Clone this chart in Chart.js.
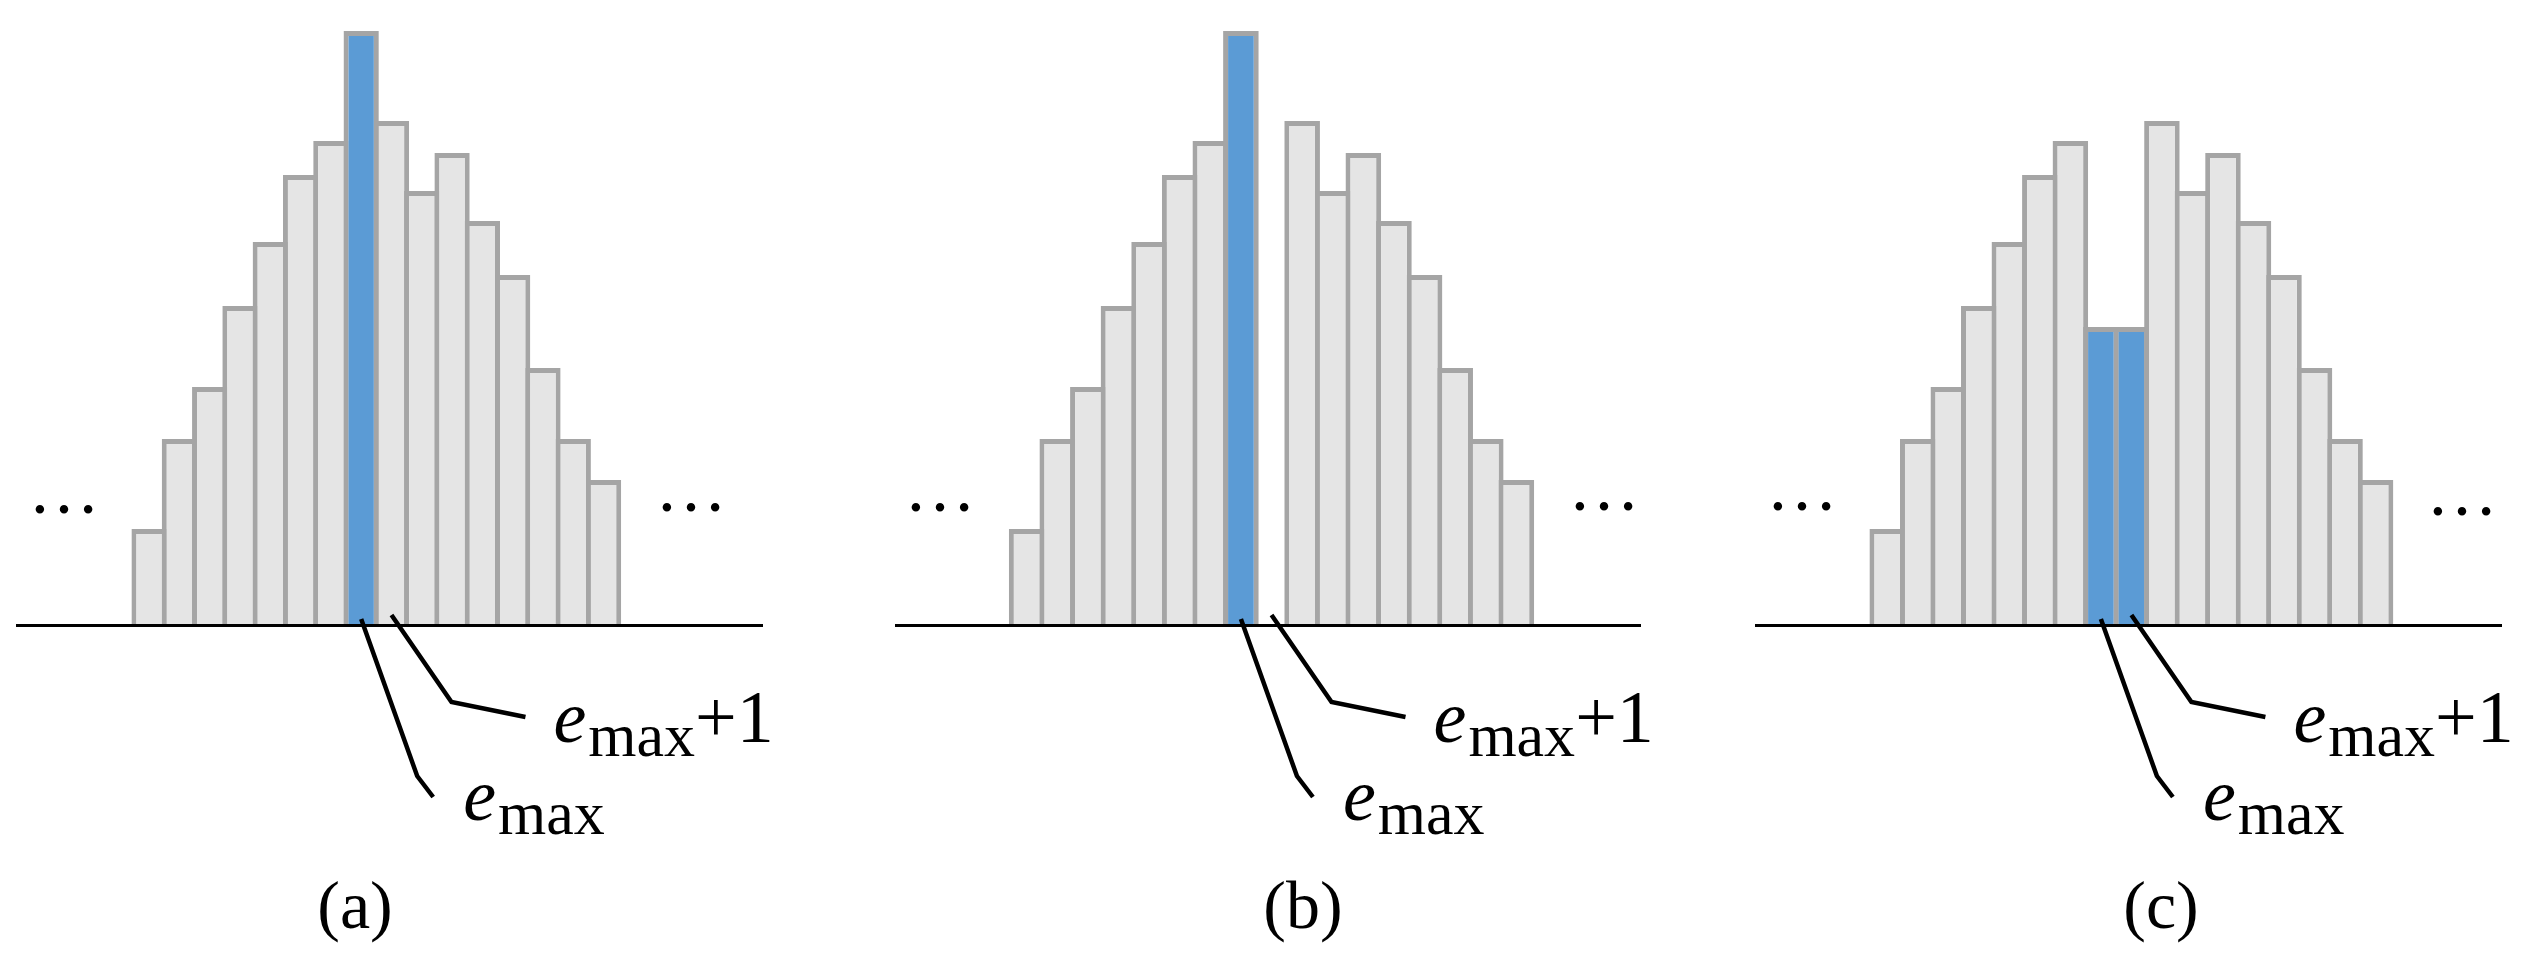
<!DOCTYPE html>
<html>
<head>
<meta charset="utf-8">
<script src="https://cdn.jsdelivr.net/npm/chart.js@4"></script>
<style>
  html, body { margin: 0; padding: 0; background: #fff; }
  #figure { position: relative; width: 2538px; height: 957px; overflow: hidden;
            font-family: "Liberation Serif", "Times New Roman", Times, "DejaVu Serif", serif; color: #000; }
  .panel { position: absolute; top: 0; width: 846px; height: 957px; }
  .panel canvas { position: absolute; left: 0; top: 0; }
  .lbl { position: absolute; font-size: 74px; line-height: 1; white-space: nowrap; }
  .lbl i { font-style: italic; }
  .lbl .sub { font-size: 62px; position: relative; top: 14px; margin-left: 2px; }
  .dots { position: absolute; font-size: 72px; line-height: 1; white-space: nowrap; }
  .cap { position: absolute; top: 871px; width: 200px; text-align: center; font-size: 68px; line-height: 1; }
</style>
</head>
<body>
<div id="figure">
  <div class="panel" style="left:0px">
    <canvas id="chartA" width="846" height="957"></canvas>
    <div class="lbl lbl-plus"><i>e</i><span class="sub">max</span>+1</div>
    <div class="lbl lbl-max"><i>e</i><span class="sub">max</span></div>
  </div>
  <div class="panel" style="left:846px">
    <canvas id="chartB" width="846" height="957"></canvas>
    <div class="lbl lbl-plus"><i>e</i><span class="sub">max</span>+1</div>
    <div class="lbl lbl-max"><i>e</i><span class="sub">max</span></div>
  </div>
  <div class="panel" style="left:1692px">
    <canvas id="chartC" width="846" height="957"></canvas>
    <div class="lbl lbl-plus"><i>e</i><span class="sub">max</span>+1</div>
    <div class="lbl lbl-max"><i>e</i><span class="sub">max</span></div>
  </div>

  <div class="dots" style="left:28px;top:453px">…</div>
  <div class="dots" style="left:655px;top:451px">…</div>
  <div class="dots" style="left:904px;top:451px">…</div>
  <div class="dots" style="left:1568px;top:450px">…</div>
  <div class="dots" style="left:1766px;top:450px">…</div>
  <div class="dots" style="left:2426px;top:455px">…</div>

  <div class="cap" id="capA" style="left:255px"></div>
  <div class="cap" id="capB" style="left:1203px"></div>
  <div class="cap" id="capC" style="left:2061px"></div>
</div>

<script>
// bins are offsets from e_max (0 = e_max, 1 = e_max+1)
const binsA = [-7, -6, -5, -4, -3, -2, -1, 0, 1, 2, 3, 4, 5, 6, 7, 8];
const countsA = [96, 186, 238, 319, 383, 450, 484, 594, 504, 434, 472, 404, 350, 257, 186, 145];

const binsB = [-7, -6, -5, -4, -3, -2, -1, 0, 1, 2, 3, 4, 5, 6, 7, 8, 9];
const countsB = [96, 186, 238, 319, 383, 450, 484, 594, null, 504, 434, 472, 404, 350, 257, 186, 145];

const binsC = [-7, -6, -5, -4, -3, -2, -1, 0, 1, 2, 3, 4, 5, 6, 7, 8, 9];
const countsC = [96, 186, 238, 319, 383, 450, 484, 298, 298, 504, 434, 472, 404, 350, 257, 186, 145];

const highlightA = [0];
const highlightB = [0];
const highlightC = [0, 1];

const captions = ["(a)", "(b)", "(c)"];

const GRAY = "#e5e5e5";
const EDGE = "#a5a5a5";
const BLUE = "#5b9bd5";

// leader lines from e_max and e_max+1 down to the labels
const leaderPlugin = {
  id: "leaders",
  afterDraw(chart) {
    const { ctx, scales: { x, y } } = chart;
    const base = y.getPixelForValue(0);
    const a = x.getPixelForValue(0);
    const b = x.getPixelForValue(1);
    ctx.save();
    ctx.strokeStyle = "#000";
    ctx.lineWidth = 4.5;
    ctx.beginPath();
    ctx.moveTo(a, base - 6);
    ctx.lineTo(a + 56, base + 151);
    ctx.lineTo(a + 72, base + 172);
    ctx.moveTo(b, base - 10);
    ctx.lineTo(b + 60, base + 77);
    ctx.lineTo(b + 134, base + 92);
    ctx.stroke();
    ctx.restore();

    const panel = chart.canvas.parentNode;
    const lblMax = panel.querySelector(".lbl-max");
    const lblPlus = panel.querySelector(".lbl-plus");
    lblMax.style.left = (a + 102) + "px";
    lblMax.style.top = (base + 133) + "px";
    lblPlus.style.left = (b + 162) + "px";
    lblPlus.style.top = (base + 55) + "px";
  }
};

function makePanel(id, bins, counts, highlight, xMin, xMax, padLeft, padRight) {
  const points = [];
  bins.forEach((b, i) => {
    if (counts[i] !== null) points.push({ x: b, y: counts[i] });
  });
  new Chart(document.getElementById(id), {
    type: "bar",
    data: {
      datasets: [{
        data: points,
        backgroundColor: points.map(p => highlight.includes(p.x) ? BLUE : GRAY),
        borderColor: EDGE,
        borderWidth: 5,
        categoryPercentage: 1,
        barPercentage: 1.165
      }]
    },
    options: {
      responsive: false,
      animation: false,
      events: [],
      layout: { padding: { left: padLeft, right: padRight, top: 25, bottom: 332 } },
      scales: {
        x: {
          type: "linear",
          min: xMin,
          max: xMax,
          offset: false,
          ticks: { display: false },
          grid: { display: false, drawTicks: false, offset: false },
          border: { display: true, color: "#000", width: 3, z: 1 },
          afterBuildTicks: s => { s.ticks = [{ value: s.min }, { value: s.max }]; }
        },
        y: { display: false, min: 0, max: 600 }
      },
      plugins: { legend: { display: false }, tooltip: { enabled: false } }
    },
    plugins: [leaderPlugin]
  });
}

makePanel("chartA", binsA, countsA, highlightA, -11.36, 13.23, 17, 84);
makePanel("chartB", binsB, countsB, highlightB, -11.27, 13.04, 50, 52);
makePanel("chartC", binsC, countsC, highlightC, -11.30, 13.11, 64, 37);

document.getElementById("capA").textContent = captions[0];
document.getElementById("capB").textContent = captions[1];
document.getElementById("capC").textContent = captions[2];
</script>
</body>
</html>
